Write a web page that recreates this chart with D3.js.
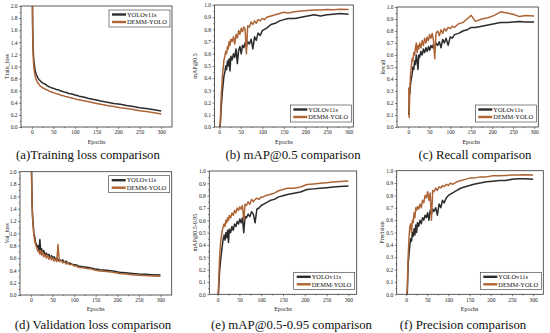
<!DOCTYPE html>
<html><head><meta charset="utf-8">
<script src="https://cdn.jsdelivr.net/npm/d3@7/dist/d3.min.js"></script>
<style>
html,body{margin:0;padding:0;background:#fff;}
svg{display:block;font-family:"Liberation Serif","Times New Roman",serif;}
</style></head>
<body><svg id="c" width="550" height="333"></svg>
<script>
const seriesNames = ["YOLOv11s", "DEMM-YOLO"];
const epochs = [1,2,3,4,5,7,9,11,13,15,17,19,21,23,25,27,30,33,36,39,42,45,48,51,54,57,60,63,66,70,74,78,82,86,90,95,100,105,110,120,130,140,150,160,175,190,205,220,235,250,265,280,300];

const trainLossYolo = [2.6,1.7,1.35,1.18,1.08,0.97,0.9,0.86,0.83,0.8,0.78,0.77,0.75,0.74,0.73,0.72,0.71,0.7,0.68,0.67,0.66,0.65,0.645,0.635,0.63,0.62,0.615,0.61,0.6,0.59,0.58,0.575,0.565,0.555,0.55,0.54,0.53,0.52,0.51,0.495,0.475,0.46,0.445,0.43,0.41,0.39,0.375,0.355,0.34,0.32,0.305,0.29,0.265];
const trainLossDemm = [2.5,1.55,1.22,1.07,0.97,0.87,0.81,0.77,0.74,0.72,0.7,0.68,0.67,0.66,0.65,0.64,0.63,0.62,0.61,0.6,0.59,0.58,0.575,0.565,0.56,0.55,0.545,0.54,0.53,0.52,0.515,0.505,0.5,0.49,0.485,0.475,0.465,0.455,0.45,0.435,0.42,0.405,0.39,0.375,0.355,0.34,0.32,0.305,0.29,0.27,0.255,0.24,0.215];

const map50Yolo = [0,0,0.05,0.12,0.18,0.28,0.35,0.42,0.45,0.5,0.47,0.54,0.5,0.56,0.46,0.58,0.55,0.6,0.57,0.64,0.52,0.63,0.66,0.6,0.67,0.65,0.69,0.66,0.7,0.68,0.72,0.64,0.74,0.71,0.77,0.75,0.79,0.8,0.81,0.84,0.85,0.87,0.88,0.89,0.89,0.9,0.91,0.92,0.91,0.92,0.925,0.93,0.925];
const map50Demm = [0,0.02,0.1,0.2,0.28,0.4,0.48,0.55,0.58,0.62,0.6,0.66,0.64,0.7,0.67,0.72,0.7,0.74,0.68,0.76,0.73,0.79,0.76,0.81,0.78,0.82,0.8,0.6,0.83,0.82,0.86,0.84,0.87,0.85,0.88,0.87,0.89,0.88,0.9,0.91,0.92,0.93,0.94,0.935,0.945,0.95,0.955,0.96,0.96,0.963,0.962,0.965,0.963];

const recallYolo = [0.1,0.22,0.3,0.28,0.35,0.4,0.44,0.5,0.48,0.55,0.52,0.6,0.56,0.48,0.6,0.58,0.63,0.6,0.65,0.62,0.66,0.63,0.67,0.64,0.68,0.66,0.69,0.65,0.7,0.68,0.71,0.66,0.73,0.7,0.74,0.68,0.75,0.74,0.77,0.78,0.8,0.81,0.83,0.83,0.84,0.85,0.86,0.87,0.87,0.875,0.88,0.875,0.875];
const recallDemm = [0.33,0.08,0.25,0.35,0.42,0.5,0.57,0.55,0.62,0.6,0.66,0.7,0.62,0.68,0.65,0.7,0.66,0.72,0.68,0.74,0.7,0.75,0.72,0.77,0.74,0.78,0.72,0.57,0.78,0.8,0.76,0.81,0.78,0.82,0.8,0.83,0.82,0.84,0.83,0.86,0.87,0.9,0.93,0.88,0.9,0.91,0.93,0.96,0.95,0.94,0.92,0.93,0.925];

const valLossYolo = [2.4,1.9,1.5,1.3,1.2,1.0,0.95,0.85,0.82,0.78,0.8,0.72,0.9,0.7,0.75,0.68,0.72,0.65,0.68,0.63,0.66,0.6,0.64,0.6,0.62,0.58,0.6,0.56,0.58,0.55,0.57,0.53,0.55,0.51,0.52,0.5,0.49,0.49,0.47,0.46,0.45,0.44,0.42,0.41,0.4,0.39,0.37,0.36,0.35,0.34,0.335,0.33,0.325];
const valLossDemm = [2.3,1.8,1.45,1.25,1.15,0.98,0.88,0.82,0.78,0.74,0.7,0.72,0.66,0.72,0.65,0.7,0.62,0.66,0.6,0.64,0.58,0.62,0.57,0.6,0.55,0.58,0.54,0.82,0.54,0.56,0.52,0.54,0.5,0.52,0.49,0.5,0.47,0.47,0.45,0.44,0.43,0.42,0.4,0.39,0.38,0.37,0.35,0.34,0.33,0.32,0.315,0.31,0.305];

const map5095Yolo = [0,0,0.08,0.15,0.2,0.28,0.34,0.4,0.45,0.48,0.44,0.5,0.46,0.52,0.42,0.53,0.5,0.55,0.52,0.57,0.55,0.59,0.57,0.61,0.58,0.62,0.5,0.63,0.62,0.65,0.63,0.67,0.65,0.58,0.69,0.7,0.72,0.73,0.74,0.76,0.77,0.79,0.8,0.81,0.82,0.83,0.85,0.855,0.86,0.865,0.87,0.875,0.878];
const map5095Demm = [0,0.05,0.15,0.25,0.32,0.42,0.48,0.52,0.55,0.57,0.55,0.6,0.58,0.62,0.6,0.64,0.62,0.66,0.64,0.68,0.66,0.7,0.68,0.71,0.69,0.72,0.6,0.73,0.72,0.75,0.73,0.77,0.75,0.77,0.78,0.77,0.79,0.79,0.8,0.81,0.82,0.84,0.85,0.86,0.86,0.87,0.89,0.895,0.9,0.905,0.91,0.915,0.918];

const precisionYolo = [0,0,0,0.12,0.25,0.32,0.4,0.45,0.43,0.5,0.47,0.53,0.48,0.56,0.5,0.58,0.55,0.6,0.57,0.62,0.6,0.64,0.62,0.66,0.6,0.68,0.65,0.69,0.67,0.7,0.64,0.73,0.7,0.76,0.74,0.78,0.8,0.81,0.82,0.84,0.86,0.87,0.88,0.89,0.9,0.91,0.915,0.92,0.92,0.93,0.935,0.935,0.93];
const precisionDemm = [0,0,0.05,0.2,0.3,0.45,0.55,0.57,0.5,0.6,0.58,0.66,0.62,0.7,0.68,0.71,0.69,0.73,0.7,0.76,0.74,0.8,0.78,0.83,0.76,0.82,0.6,0.84,0.83,0.86,0.84,0.87,0.86,0.88,0.87,0.89,0.88,0.9,0.89,0.91,0.92,0.93,0.94,0.94,0.95,0.95,0.96,0.96,0.962,0.965,0.965,0.967,0.965];

const xTicks = [0,50,100,150,200,250,300];
const lossTicks = [0,0.2,0.4,0.6,0.8,1.0,1.2,1.4,1.6,1.8,2.0];
const metricTicks = [0,0.1,0.2,0.3,0.4,0.5,0.6,0.7,0.8,0.9,1.0];

const colors = ["#2b2b2b", "#ad6536"];

const panels = [
  {ys:[trainLossYolo,trainLossDemm], ticks:lossTicks, ylab:"Train_loss", cap:"(a)Training loss comparison",
   box:[21,172,6,127], xd:[-25,325], ylx:7, legTop:true, capx:88, capy:159, exy:143.5},
  {ys:[map50Yolo,map50Demm], ticks:metricTicks, ylab:"mAP@0.5", cap:"(b) mAP@0.5 comparison",
   box:[214.5,353.3,5,127], xd:[-11,311], ylx:195, legTop:false, capx:293, capy:159, exy:143.5},
  {ys:[recallYolo,recallDemm], ticks:metricTicks, ylab:"Recall", cap:"(c) Recall comparison",
   box:[397,538.3,7,127], xd:[-27,310], ylx:382.5, legTop:false, capx:475, capy:159, exy:143.5},
  {ys:[valLossYolo,valLossDemm], ticks:lossTicks, ylab:"Val_loss", cap:"(d) Validation loss comparison",
   box:[20,171.7,171.7,295], xd:[-25,326], ylx:7, legTop:true, capx:93, capy:329, exy:311},
  {ys:[map5095Yolo,map5095Demm], ticks:metricTicks, ylab:"mAP@0.5-0.95", cap:"(e) mAP@0.5-0.95 comparison",
   box:[209.3,356.7,171,294.3], xd:[-19,319], ylx:194.5, legTop:false, capx:291.5, capy:329, exy:311},
  {ys:[precisionYolo,precisionDemm], ticks:metricTicks, ylab:"Precision", cap:"(f) Precision comparison",
   box:[396.7,543.3,170.7,294.3], xd:[-22,324], ylx:382, legTop:false, capx:463, capy:329, exy:311}
];

const svg = d3.select("#c");

panels.forEach((p, pi) => {
  const [x0,x1,y0,y1] = p.box;
  const x = d3.scaleLinear().domain(p.xd).range([x0,x1]);
  const ymax = p.ticks[p.ticks.length-1];
  const y = d3.scaleLinear().domain([0,ymax]).range([y1,y0]);
  const g = svg.append("g");

  g.append("clipPath").attr("id","clip"+pi)
    .append("rect").attr("x",x0).attr("y",y0).attr("width",x1-x0).attr("height",y1-y0);

  const line = d3.line().x((d,i)=>x(epochs[i])).y(d=>y(d));
  const lg = g.append("g").attr("clip-path","url(#clip"+pi+")");
  p.ys.forEach((arr, si) => {
    lg.append("path").datum(arr).attr("d", line)
      .attr("fill","none").attr("stroke",colors[si]).attr("stroke-width",1.5)
      .attr("stroke-linejoin","round");
  });

  g.append("rect").attr("x",x0).attr("y",y0).attr("width",x1-x0).attr("height",y1-y0)
    .attr("fill","none").attr("stroke","#333").attr("stroke-width",0.8);

  const xa = g.append("g").attr("transform",`translate(0,${y1})`)
    .call(d3.axisBottom(x).tickValues(xTicks).tickSize(2).tickPadding(1.5).tickFormat(d3.format("d")));
  const xm = g.append("g").attr("transform",`translate(0,${y1})`)
    .call(d3.axisBottom(x).tickValues(xTicks.slice(0,-1).map(v=>v+25).concat([-25].filter(v=>v>=p.xd[0])))
      .tickSize(1.2).tickFormat(""));
  const ya = g.append("g").attr("transform",`translate(${x0},0)`)
    .call(d3.axisLeft(y).tickValues(p.ticks).tickSize(2).tickPadding(1.5).tickFormat(d3.format(".1f")));
  const step = p.ticks[1]-p.ticks[0];
  const ym = g.append("g").attr("transform",`translate(${x0},0)`)
    .call(d3.axisLeft(y).tickValues(p.ticks.slice(0,-1).map(v=>v+step/2)).tickSize(1.2).tickFormat(""));
  [xa,xm,ya,ym].forEach(a=>{
    a.select(".domain").remove();
    a.selectAll("line").attr("stroke","#333").attr("stroke-width",0.6);
    a.selectAll("text").attr("font-size","5.5px").attr("fill","#222")
      .attr("font-family","Liberation Serif, serif");
  });

  g.append("text").attr("x",(x(0)+x(300))/2).attr("y",p.exy).attr("text-anchor","middle")
    .attr("font-size","6px").attr("fill","#222").text("Epochs");
  g.append("text").attr("transform",`translate(${p.ylx},${(y0+y1)/2}) rotate(-90)`)
    .attr("text-anchor","middle").attr("dy","0.35em")
    .attr("font-size","6px").attr("fill","#222").text(p.ylab);

  const lx0 = x1-63, lx1 = x1-2;
  const ly0 = p.legTop ? y0+4 : y1-22;
  const lgd = g.append("g");
  lgd.append("rect").attr("x",lx0).attr("y",ly0).attr("width",lx1-lx0).attr("height",17)
    .attr("fill","#fff").attr("stroke","#333").attr("stroke-width",0.6);
  seriesNames.forEach((nm, si) => {
    const yy = ly0 + 4.5 + si*7.5;
    lgd.append("line").attr("x1",lx0+3).attr("x2",lx0+17).attr("y1",yy).attr("y2",yy)
      .attr("stroke",colors[si]).attr("stroke-width",2.4);
    lgd.append("text").attr("x",lx0+18).attr("y",yy).attr("dy","0.35em")
      .attr("font-size","6.4px").attr("fill","#111").text(nm);
  });

  svg.append("text").attr("x",p.capx).attr("y",p.capy).attr("text-anchor","middle")
    .attr("font-size","12.8px").attr("fill","#111").text(p.cap);
});
</script></body></html>
